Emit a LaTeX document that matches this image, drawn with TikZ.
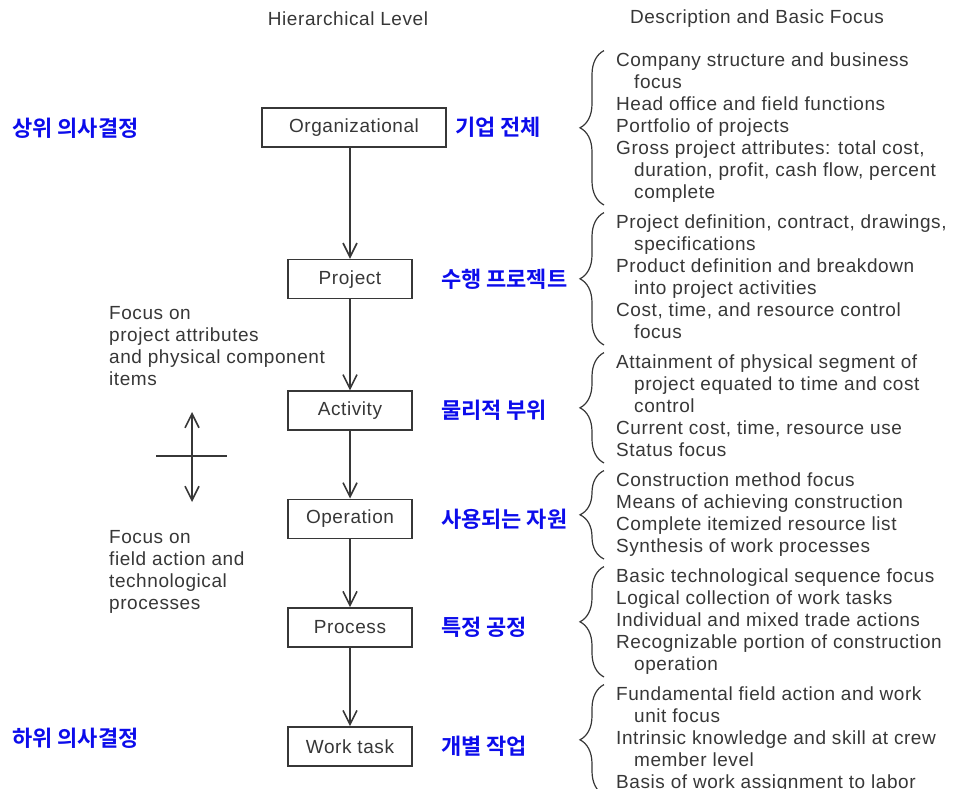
\documentclass[tikz,border=0pt]{standalone}
\usepackage{fontspec}
\setmainfont{Liberation Sans}[LetterSpace=3]
\newfontfamily\krfont{Noto Sans CJK KR Bold}
\usetikzlibrary{positioning,arrows.meta,decorations.pathreplacing}

\definecolor{ink}{RGB}{55,55,55}
\definecolor{krblue}{RGB}{12,12,235}
\newcommand{\ind}{\hspace*{18pt}}
\newcommand{\bodyfont}{\fontsize{19}{22}\selectfont}

\tikzset{
	levelbox/.style={draw=ink, line width=1.6pt, minimum width=124pt, minimum height=39pt, inner sep=0pt, text=ink, font=\bodyfont},
	flow/.style={draw=ink, line width=1.6pt, >={Straight Barb[length=14pt,width=14pt]}, ->},
	krtag/.style={text=krblue, inner sep=0pt, font=\fontsize{22}{24}\krfont},
	desc/.style={align=left, anchor=north west, inner sep=0pt, text=ink, font=\bodyfont},
	groupbrace/.style={draw=ink, line width=1.2pt, decorate, decoration={brace, amplitude=24pt}},
}

\begin{document}
\begin{tikzpicture}[x=1pt, y=-1pt]
	\useasboundingbox (0,0) rectangle (954,789);

	% column headings
	\node[text=ink, font=\bodyfont] (hlevel) at (348,19) {Hierarchical Level};
	\node[text=ink, font=\bodyfont] (hdesc) at (757,19) {Description and Basic Focus};

	% hierarchy boxes
	\node[levelbox, minimum width=184pt] (org) at (354,127.5) {Organizational};
	\node[levelbox, below=111pt of org, xshift=-4pt] (prj) {Project};
	\node[levelbox, below=91pt of prj] (act) {Activity};
	\node[levelbox, below=67.5pt of act] (opr) {Operation};
	\node[levelbox, below=68pt of opr] (prc) {Process};
	\node[levelbox, below=78.5pt of prc] (wrk) {Work task};

	\draw[flow] (org.south -| prj) -- (prj.north);
	\draw[flow] (prj) -- (act);
	\draw[flow] (act) -- (opr);
	\draw[flow] (opr) -- (prc);
	\draw[flow] (prc) -- (wrk);

	% korean tags
	\node[krtag, anchor=west] (ktop) at (12,128) {상위 의사결정};
	\node[krtag, anchor=west] (kbot) at (12,738) {하위 의사결정};
	\node[krtag, right=8pt of org] (korg) {기업 전체};
	\node[krtag, right=28pt of prj] (kprj) {수행 프로젝트};
	\node[krtag, right=28pt of act] (kact) {물리적 부위};
	\node[krtag, right=28pt of opr] (kopr) {사용되는 자원};
	\node[krtag, right=28pt of prc] (kprc) {특정 공정};
	\node[krtag, right=28pt of wrk] (kwrk) {개별 작업};

	% focus notes and the cross
	\node[desc] (fproj) at (109,303.6) {\strut Focus on\\project attributes\\and physical component\\items};
	\node[desc] (ffield) at (109,527.6) {\strut Focus on\\field action and\\technological\\processes};

	\coordinate (up) at (192,412);
	\coordinate (dn) at (192,502);
	\coordinate (cl) at (156,456);
	\coordinate (cr) at (227,456);
	\draw[flow, <->] (up) -- (dn);
	\draw[flow, -] (cl) -- (cr);

	% descriptions
	\node[desc] (d1) at (616,50.6) {\strut Company structure and business\\\ind focus\\Head office and field functions\\Portfolio of projects\\Gross project attributes: total cost,\\\ind duration, profit, cash flow, percent\\\ind complete\strut};
	\node[desc] (d2) at (616,212.6) {\strut Project definition, contract, drawings,\\\ind specifications\\Product definition and breakdown\\\ind into project activities\\Cost, time, and resource control\\\ind focus\strut};
	\node[desc] (d3) at (616,352.6) {\strut Attainment of physical segment of\\\ind project equated to time and cost\\\ind control\\Current cost, time, resource use\\Status focus\strut};
	\node[desc] (d4) at (616,470.6) {\strut Construction method focus\\Means of achieving construction\\Complete itemized resource list\\Synthesis of work processes\strut};
	\node[desc] (d5) at (616,566.6) {\strut Basic technological sequence focus\\Logical collection of work tasks\\Individual and mixed trade actions\\Recognizable portion of construction\\\ind operation\strut};
	\node[desc] (d6) at (616,684.6) {\strut Fundamental field action and work\\\ind unit focus\\Intrinsic knowledge and skill at crew\\\ind member level\\Basis of work assignment to labor\strut};

	\foreach \g in {d1,d2,d3,d4,d5,d6}
		\draw[groupbrace] ([xshift=-12pt]\g.south west) -- ([xshift=-12pt]\g.north west);
\end{tikzpicture}
\end{document}
